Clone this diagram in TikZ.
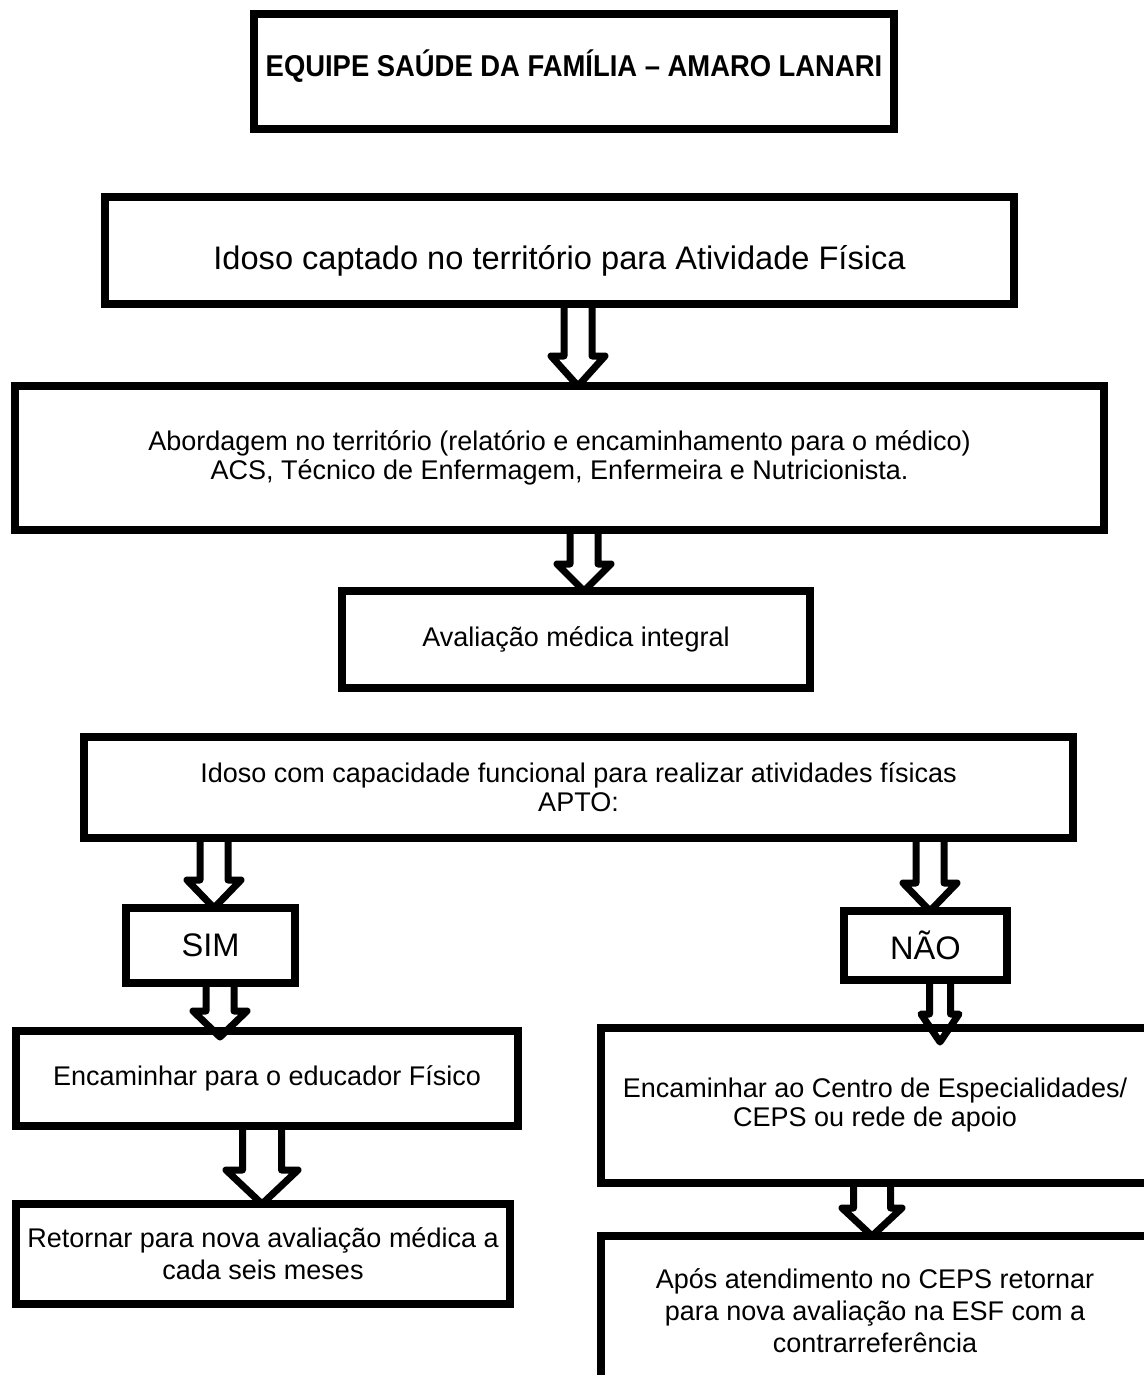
\documentclass[tikz,border=0pt]{standalone}
\usepackage{fontspec}
\setmainfont{Liberation Sans}
\usetikzlibrary{calc}

% hollow block arrow: x, from, to, shaft half width, head half width, head height
\newcommand{\fatarrow}[6]{%
	\draw[fatarrow] let \p1=(#2), \p2=(#3), \p3=(#1,0) in
		(\x3-#4,\y1) -- (\x3-#4,\y2+#6) -- (\x3-#5,\y2+#6) -- (\x3,\y2)
		-- (\x3+#5,\y2+#6) -- (\x3+#4,\y2+#6) -- (\x3+#4,\y1);}

\begin{document}
\begin{tikzpicture}[x=0.5pt, y=-0.5pt,
			box/.style={draw, line width=3.8pt, inner sep=0pt, outer sep=0pt, align=center,
				font=\fontsize{13.5pt}{14.5pt}\selectfont},
			bigtext/.style={font=\fontsize{16.3pt}{18pt}\selectfont},
			lowtext/.style={font=\fontsize{13.5pt}{16pt}\selectfont},
			fatarrow/.style={line width=3.5pt, line join=round}]
	\useasboundingbox (0,0) rectangle (1144,1375);
	\clip (0,0) rectangle (1144,1375);
	\node[box, minimum width=320pt, minimum height=57.5pt, text depth=8.5pt,
		font=\bfseries\fontsize{13.7pt}{15pt}\selectfont] (equipe) at (574,71.5)
		{\scalebox{1}[1.1]{EQUIPE SAÚDE DA FAMÍLIA – AMARO LANARI}};
	\node[box, bigtext, minimum width=454.5pt, minimum height=53.5pt, text height=19pt, text depth=0pt]
		(captado) at (559.5,250.5) {Idoso captado no território para Atividade Física};
	\node[box, minimum width=544.5pt, minimum height=72pt] (abordagem) at (559.5,458)
		{Abordagem no território (relatório e encaminhamento para o médico)\\
		 ACS, Técnico de Enfermagem, Enfermeira e Nutricionista.};
	\node[box, minimum width=234pt, minimum height=48.5pt] (avaliacao) at (576,639.5)
		{Avaliação médica integral};
	\node[box, minimum width=494.5pt, minimum height=50.5pt] (apto) at (578.5,787.5)
		{Idoso com capacidade funcional para realizar atividades físicas\\ APTO:};
	\node[box, bigtext, minimum width=84.5pt, minimum height=37.5pt] (sim) at (210.5,945.5) {SIM};
	\node[box, bigtext, minimum width=81.5pt, minimum height=34.5pt] (nao) at (925.5,945.5) {NÃO};
	\node[box, minimum width=251pt, minimum height=47.5pt] (educador) at (267,1078.5)
		{Encaminhar para o educador Físico};
	\node[box, minimum width=274pt, minimum height=77.5pt] (centro) at (875,1105.5)
		{Encaminhar ao Centro de Especialidades/\\ CEPS ou rede de apoio};
	\node[box, lowtext, minimum width=247pt, minimum height=50pt] (retorno) at (263,1254)
		{Retornar para nova avaliação médica a\\ cada seis meses};
	\node[box, lowtext, minimum width=274pt, minimum height=74.5pt] (apos) at (875,1310.5)
		{Após atendimento no CEPS retornar\\ para nova avaliação na ESF com a\\ contrarreferência};
	% block arrows
	\fatarrow{578}{captado.south}{abordagem.north}{7pt}{13.5pt}{15pt}
	\fatarrow{584}{abordagem.south}{avaliacao.north}{7pt}{13.5pt}{13.5pt}
	\fatarrow{214}{apto.south}{sim.north}{7pt}{13.5pt}{14pt}
	\fatarrow{930}{apto.south}{nao.north}{7pt}{13.5pt}{14pt}
	\fatarrow{220}{sim.south}{[yshift=-3pt]educador.north}{7pt}{13.5pt}{13pt}
	\fatarrow{940}{nao.south}{[yshift=-7pt]centro.north}{5.25pt}{9.5pt}{14pt}
	\fatarrow{262}{educador.south}{retorno.north}{9.75pt}{18pt}{17pt}
	\fatarrow{872}{centro.south}{apos.north}{9.25pt}{15pt}{14pt}
\end{tikzpicture}
\end{document}
